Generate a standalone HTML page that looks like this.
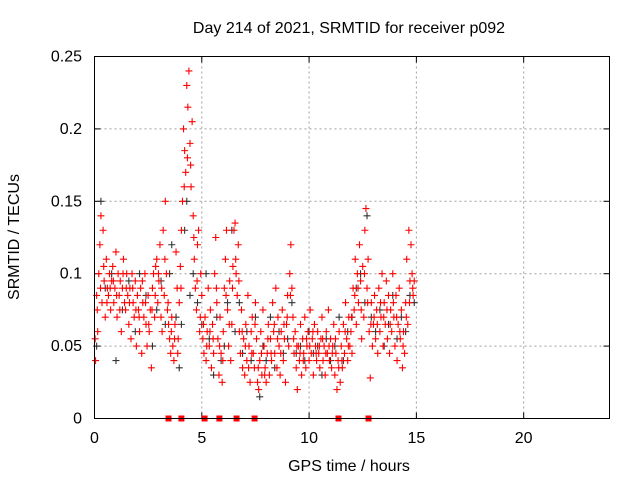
<!DOCTYPE html>
<html><head><meta charset="utf-8"><style>
body{margin:0;background:#fff}
svg{display:block;font-family:"Liberation Sans",sans-serif;font-size:16px}
</style></head><body>
<svg id="chart" width="640" height="480">
<rect width="640" height="480" fill="#fff"/>
<g id="grid"></g>
<g id="ticks"></g>
<g id="black"></g>
<g id="red"></g>
<g id="squares"></g>
<rect x="94.5" y="56.5" width="515" height="362" fill="none" stroke="#000" stroke-width="1"/>
<text x="349" y="33" text-anchor="middle">Day 214 of 2021, SRMTID for receiver p092</text>
<text x="349" y="471" text-anchor="middle">GPS time / hours</text>
<text transform="translate(19,237) rotate(-90)" text-anchor="middle">SRMTID / TECUs</text>
</svg>
<script>
const xTicks=[0,5,10,15,20];
const yTicks=[0,0.05,0.1,0.15,0.2,0.25];
const yTickLabels=["0","0.05","0.1","0.15","0.2","0.25"];
const zeroMarkers=[3.45,4.05,5.13,5.82,6.62,7.46,11.37,12.77];
const blackPts=[[0.1,.05],[0.3,.15],[0.5,.09],[0.8,.1],[1.0,.04],[1.3,.075],[1.6,.095],[1.9,.06],[2.1,.1],[2.4,.085],[2.7,.05],[2.9,.075],[3.1,.095],[3.3,.065],[3.5,.1],[3.6,.12],[3.8,.07],[3.95,.035],[4.05,.065],[4.2,.13],[4.3,.15],[4.45,.085],[4.6,.1],[4.8,.08],[5.0,.065],[5.2,.1],[5.35,.055],[5.55,.03],[5.7,.07],[5.9,.04],[6.05,.05],[6.2,.08],[6.4,.13],[6.55,.06],[6.75,.08],[6.9,.045],[7.1,.06],[7.3,.04],[7.5,.07],[7.7,.015],[7.85,.05],[8.0,.04],[8.2,.07],[8.4,.035],[8.6,.06],[8.8,.045],[9.0,.055],[9.2,.08],[9.4,.045],[9.6,.05],[9.8,.04],[10.0,.06],[10.2,.045],[10.4,.05],[10.6,.03],[10.8,.055],[11.0,.04],[11.2,.05],[11.4,.07],[11.6,.04],[11.8,.06],[12.0,.07],[12.2,.09],[12.4,.1],[12.6,.08],[12.7,.14],[12.9,.07],[13.1,.06],[13.3,.075],[13.5,.05],[13.7,.065],[13.9,.085],[14.1,.055],[14.3,.07],[14.5,.06],[14.7,.085],[14.9,.08]];
const redPts=[[0.05,.04],[.1,.085],[.15,.06],[.2,.1],[.25,.12],[.3,.14],[.35,.08],[.4,.13],[.45,.095],[.5,.07],[.55,.11],[.6,.09],[.65,.085],[.7,.1],[.75,.075],[.8,.095],[.85,.105],[.9,.08],[.95,.09],[1.0,.115],[1.05,.07],[1.1,.1],[1.15,.085],[1.2,.095],[1.25,.06],[1.3,.09],[1.35,.11],[1.4,.08],[1.45,.075],[1.5,.1],[1.55,.085],[1.6,.065],[1.65,.09],[1.7,.055],[1.75,.1],[1.8,.08],[1.85,.07],[1.9,.095],[1.95,.05],[2.0,.085],[2.05,.075],[2.1,.06],[2.15,.09],[2.2,.045],[2.25,.08],[2.3,.07],[2.35,.1],[2.4,.065],[2.45,.05],[2.5,.085],[2.55,.06],[2.6,.075],[2.65,.035],[2.7,.09],[2.75,.1],[2.8,.07],[2.85,.105],[2.9,.11],[2.95,.08],[3.0,.095],[3.05,.12],[3.1,.07],[3.15,.06],[3.2,.13],[3.25,.085],[3.3,.15],[3.35,.1],[3.4,.075],[3.45,.065],[3.5,.055],[3.55,.045],[3.6,.07],[3.65,.05],[3.7,.04],[3.75,.065],[3.8,.115],[3.85,.09],[3.9,.055],[3.95,.08],[4.0,.105],[4.05,.13],[4.1,.15],[4.15,.2],[4.2,.185],[4.25,.17],[4.3,.23],[4.35,.215],[4.4,.24],[4.45,.19],[4.5,.16],[4.55,.205],[4.6,.14],[4.65,.11],[4.7,.09],[4.75,.075],[4.8,.12],[4.85,.13],[4.9,.06],[4.95,.1],[5.0,.085],[5.05,.055],[5.1,.045],[5.15,.07],[5.2,.04],[5.25,.06],[5.3,.09],[5.35,.05],[5.4,.075],[5.45,.035],[5.5,.065],[5.55,.045],[5.6,.1],[5.65,.125],[5.7,.08],[5.75,.055],[5.8,.03],[5.85,.07],[5.9,.045],[5.95,.025],[6.0,.06],[6.05,.09],[6.1,.11],[6.15,.13],[6.2,.075],[6.25,.05],[6.3,.095],[6.35,.04],[6.4,.065],[6.45,.105],[6.5,.13],[6.55,.135],[6.6,.1],[6.65,.085],[6.7,.12],[6.75,.06],[6.8,.045],[6.85,.075],[6.9,.035],[6.95,.055],[7.0,.03],[7.05,.065],[7.1,.04],[7.15,.085],[7.2,.05],[7.25,.025],[7.3,.06],[7.35,.07],[7.4,.045],[7.45,.035],[7.5,.08],[7.55,.055],[7.6,.025],[7.65,.02],[7.7,.04],[7.75,.06],[7.8,.03],[7.85,.075],[7.9,.05],[7.95,.035],[8.0,.025],[8.05,.045],[8.1,.065],[8.15,.03],[8.2,.055],[8.25,.04],[8.3,.08],[8.35,.06],[8.4,.045],[8.45,.09],[8.5,.035],[8.55,.07],[8.6,.05],[8.65,.03],[8.7,.06],[8.75,.075],[8.8,.04],[8.85,.055],[8.9,.025],[8.95,.065],[9.0,.085],[9.05,.05],[9.1,.1],[9.15,.12],[9.2,.09],[9.25,.07],[9.3,.045],[9.35,.06],[9.4,.035],[9.45,.02],[9.5,.05],[9.55,.04],[9.6,.065],[9.65,.03],[9.7,.055],[9.75,.045],[9.8,.07],[9.85,.035],[9.9,.05],[9.95,.06],[10.0,.04],[10.05,.075],[10.1,.045],[10.15,.055],[10.2,.03],[10.25,.065],[10.3,.05],[10.35,.04],[10.4,.06],[10.45,.045],[10.5,.035],[10.55,.055],[10.6,.07],[10.65,.04],[10.7,.05],[10.75,.03],[10.8,.06],[10.85,.045],[10.9,.075],[10.95,.04],[11.0,.055],[11.05,.035],[11.1,.05],[11.15,.065],[11.2,.03],[11.25,.045],[11.3,.02],[11.35,.04],[11.4,.06],[11.45,.025],[11.5,.05],[11.55,.035],[11.6,.065],[11.65,.045],[11.7,.08],[11.75,.055],[11.8,.04],[11.85,.07],[11.9,.05],[11.95,.06],[12.0,.045],[12.05,.09],[12.1,.075],[12.15,.11],[12.2,.065],[12.25,.1],[12.3,.08],[12.35,.12],[12.4,.095],[12.45,.055],[12.5,.105],[12.55,.07],[12.6,.13],[12.65,.145],[12.7,.09],[12.75,.11],[12.8,.06],[12.85,.028],[12.9,.08],[12.95,.05],[13.0,.065],[13.05,.085],[13.1,.055],[13.15,.075],[13.2,.045],[13.25,.09],[13.3,.06],[13.35,.07],[13.4,.1],[13.45,.05],[13.5,.08],[13.55,.065],[13.6,.095],[13.65,.055],[13.7,.085],[13.75,.045],[13.8,.075],[13.85,.06],[13.9,.1],[13.95,.07],[14.0,.05],[14.05,.085],[14.1,.04],[14.15,.065],[14.2,.09],[14.25,.055],[14.3,.075],[14.35,.035],[14.4,.06],[14.45,.045],[14.5,.08],[14.55,.11],[14.6,.065],[14.65,.13],[14.7,.095],[14.75,.12],[14.8,.1],[14.85,.085],[14.9,.095]];
const redPts2=[[0.03,.055],[.13,.075],[.28,.09],[.43,.105],[.58,.08],[.73,.09],[.88,.095],[1.03,.085],[1.18,.075],[1.33,.1],[1.48,.09],[1.63,.08],[1.78,.09],[1.93,.075],[2.08,.07],[2.23,.095],[2.38,.08],[2.53,.065],[2.68,.075],[2.83,.085],[2.98,.1],[3.13,.09],[3.28,.11],[3.43,.08],[3.58,.06],[3.73,.055],[3.88,.045],[4.03,.09],[4.18,.16],[4.33,.18],[4.48,.175],[4.63,.125],[4.78,.095],[4.93,.07],[5.08,.065],[5.23,.05],[5.38,.06],[5.53,.055],[5.68,.09],[5.83,.05],[5.98,.04],[6.13,.085],[6.28,.065],[6.43,.09],[6.58,.11],[6.73,.095],[6.88,.06],[7.03,.05],[7.18,.035],[7.33,.045],[7.48,.065],[7.63,.035],[7.78,.045],[7.93,.03],[8.08,.055],[8.23,.045],[8.38,.065],[8.53,.055],[8.68,.045],[8.83,.065],[8.98,.07],[9.13,.085],[9.28,.055],[9.43,.05],[9.58,.045],[9.73,.04],[9.88,.055],[10.03,.05],[10.18,.06],[10.33,.045],[10.48,.05],[10.63,.055],[10.78,.045],[10.93,.05],[11.08,.045],[11.23,.055],[11.38,.035],[11.53,.04],[11.68,.06],[11.83,.05],[11.98,.07],[12.13,.085],[12.28,.09],[12.43,.075],[12.58,.1],[12.73,.08],[12.88,.065],[13.03,.07],[13.18,.065],[13.33,.08],[13.48,.07],[13.63,.075],[13.78,.065],[13.93,.08],[14.08,.07],[14.23,.06],[14.38,.05],[14.53,.07],[14.68,.08],[14.83,.09]];

const NS="http://www.w3.org/2000/svg";
const X0=94.5,X1=609.5,Y0=418.5,Y1=56.5,XMAX=24,YMAX=0.25;
function sx(v){return X0+(X1-X0)*v/XMAX;}
function sy(v){return Y0-(Y0-Y1)*v/YMAX;}
function mk(tag,attrs,parent){const e=document.createElementNS(NS,tag);for(const k in attrs)e.setAttribute(k,attrs[k]);parent.appendChild(e);return e;}
const grid=document.getElementById('grid'),ticks=document.getElementById('ticks');
xTicks.forEach(t=>{
  const x=sx(t);
  if(t>0){const g=mk('line',{x1:x,x2:x,y1:Y1,y2:Y0,stroke:'#a0a0a0','stroke-dasharray':'2,3'},grid);
  
  }
  mk('line',{x1:x,x2:x,y1:Y0,y2:Y0-6,stroke:'#000'},ticks);
  mk('line',{x1:x,x2:x,y1:Y1,y2:Y1+6,stroke:'#000'},ticks);
  const l=mk('text',{x:x,y:443,'text-anchor':'middle'},ticks);l.textContent=String(t);
  
  
});
yTicks.forEach((t,i)=>{
  const y=sy(t);
  if(t>0&&t<YMAX){const g=mk('line',{x1:X0,x2:X1,y1:y,y2:y,stroke:'#a0a0a0','stroke-dasharray':'2,3'},grid);
  
  }
  mk('line',{x1:X0,x2:X0+6,y1:y,y2:y,stroke:'#000'},ticks);
  mk('line',{x1:X1,x2:X1-6,y1:y,y2:y,stroke:'#000'},ticks);
  const l=mk('text',{x:82,y:y+5,'text-anchor':'end'},ticks);l.textContent=yTickLabels[i];
  
  
});
function plus(g,pts,col){pts.forEach(p=>{const x=sx(p[0]),y=sy(p[1]);
  const e=mk('path',{d:`M${x-3.5},${y}H${x+3.5}M${x},${y-3.5}V${y+3.5}`,stroke:col,'stroke-width':1.1,fill:'none'},g);
  
  });}
plus(document.getElementById('black'),blackPts,'#333');
plus(document.getElementById('red'),redPts,'#ff0000');
plus(document.getElementById('red'),redPts2,'#ff0000');
const sq=document.getElementById('squares');
zeroMarkers.forEach(t=>{const e=mk('rect',{x:sx(t)-3,y:Y0-3,width:6,height:6,fill:'#ff0000'},sq);
  
  });
</script>
</body></html>
